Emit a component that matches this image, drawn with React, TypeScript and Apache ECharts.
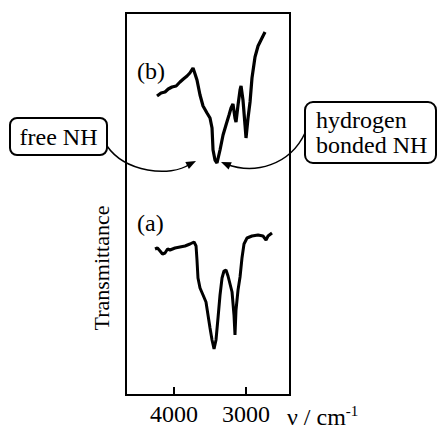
import React, { useEffect, useRef } from "react";
import * as echarts from "echarts";

// Wavenumber (cm^-1) and transmittance (arbitrary units)
const waveB = [4236, 4180, 4125, 4080, 4028, 3970, 3917, 3870, 3819, 3780, 3736, 3708, 3681, 3639, 3597, 3542, 3500, 3472, 3458, 3431, 3403, 3361, 3319, 3278, 3236, 3208, 3181, 3153, 3139, 3111, 3083, 3069, 3042, 3014, 3000, 2972, 2944, 2917, 2875, 2833, 2778, 2736];
const transB = [299, 302, 303, 306, 308, 309, 313, 316, 319, 322, 327, 321, 315, 300, 289, 282, 277, 267, 245, 235, 232, 245, 260, 270, 280, 287, 291, 277, 273, 290, 305, 309, 295, 270, 257, 277, 293, 317, 338, 349, 357, 363];

const waveA = [4264, 4230, 4194, 4160, 4125, 4090, 4056, 3986, 3917, 3847, 3778, 3722, 3694, 3681, 3667, 3639, 3597, 3556, 3528, 3500, 3472, 3444, 3417, 3389, 3361, 3333, 3306, 3278, 3250, 3222, 3194, 3167, 3153, 3139, 3111, 3083, 3056, 3028, 2986, 2917, 2833, 2764, 2722, 2694, 2639];
const transA = [146, 147, 144, 141, 142, 146, 145, 147, 148, 149, 151, 153, 149, 135, 117, 107, 100, 93, 80, 67, 55, 46, 55, 77, 100, 117, 124, 125, 119, 111, 103, 80, 60, 85, 105, 118, 137, 151, 157, 159, 160, 159, 155, 159, 162];

const tickValues = [4000, 3000];
const xMin = 2389;
const xMax = 4667;

const SERIF = "'Liberation Serif', 'Times New Roman', 'DejaVu Serif', serif";

export default function App() {
  const ref = useRef<HTMLDivElement>(null);
  useEffect(() => {
    if (!ref.current) return;
    const chart = echarts.init(ref.current, null, { renderer: "svg" });
    const dataB = waveB.map((w, i) => [w, transB[i]]);
    const dataA = waveA.map((w, i) => [w, transA[i]]);
    chart.setOption({
      animation: false,
      backgroundColor: "#fff",
      grid: {
        left: 126,
        right: 148,
        top: 13,
        bottom: 35,
        show: true,
        borderColor: "#000",
        borderWidth: 2,
        backgroundColor: "transparent",
      },
      xAxis: {
        type: "value",
        inverse: true,
        min: xMin,
        max: xMax,
        splitLine: { show: false },
        axisLine: { show: true, lineStyle: { color: "#000", width: 2 } },
        axisTick: {
          show: true,
          inside: true,
          length: 8,
          customValues: tickValues,
          lineStyle: { color: "#000", width: 2 },
        },
        axisLabel: {
          customValues: tickValues,
          formatter: (v: number) => String(v),
          color: "#000",
          fontFamily: SERIF,
          fontSize: 24,
          margin: 7,
        },
      },
      yAxis: {
        type: "value",
        min: 0,
        max: 382,
        axisLine: { show: false },
        axisTick: { show: false },
        axisLabel: { show: false },
        splitLine: { show: false },
      },
      series: [
        {
          type: "line",
          name: "(b)",
          data: dataB,
          showSymbol: false,
          lineStyle: { color: "#000", width: 3.2 },
          silent: true,
        },
        {
          type: "line",
          name: "(a)",
          data: dataA,
          showSymbol: false,
          lineStyle: { color: "#000", width: 3 },
          silent: true,
        },
      ],
      graphic: [
        {
          type: "text",
          x: 101,
          y: 268,
          rotation: Math.PI / 2,
          style: { text: "Transmittance", fontFamily: SERIF, fontSize: 22, fill: "#000", align: "center", verticalAlign: "middle" },
        },
        { type: "text", left: 137, top: 59, style: { text: "(b)", fontFamily: SERIF, fontSize: 24, fill: "#000" } },
        { type: "text", left: 137, top: 211, style: { text: "(a)", fontFamily: SERIF, fontSize: 24, fill: "#000" } },
        {
          type: "bezierCurve",
          shape: { x1: 107, y1: 146, cpx1: 125, cpy1: 172, cpx2: 170, cpy2: 178, x2: 190, y2: 164 },
          style: { stroke: "#000", lineWidth: 1.5, fill: "none" },
        },
        {
          type: "polygon",
          shape: { points: [[196, 161], [188.9, 169.1], [185.3, 161.9]] },
          style: { fill: "#000" },
        },
        {
          type: "bezierCurve",
          shape: { x1: 305, y1: 133, cpx1: 290, cpy1: 165, cpx2: 255, cpy2: 175, x2: 226, y2: 164 },
          style: { stroke: "#000", lineWidth: 1.5, fill: "none" },
        },
        {
          type: "polygon",
          shape: { points: [[221, 162], [231.8, 162.2], [228.6, 169.6]] },
          style: { fill: "#000" },
        },
        {
          type: "rect",
          shape: { x: 10, y: 118, width: 97, height: 37, r: 7 },
          style: { fill: "#fff", stroke: "#000", lineWidth: 2 },
        },
        {
          type: "text",
          x: 58.5,
          y: 137,
          style: { text: "free NH", fontFamily: SERIF, fontSize: 24, fill: "#000", align: "center", verticalAlign: "middle" },
        },
        {
          type: "rect",
          shape: { x: 305, y: 102, width: 131, height: 61, r: 8 },
          style: { fill: "#fff", stroke: "#000", lineWidth: 2 },
        },
        {
          type: "text",
          x: 316,
          y: 132.5,
          style: {
            text: "hydrogen\nbonded NH",
            fontFamily: SERIF,
            fontSize: 24,
            lineHeight: 25,
            fill: "#000",
            align: "left",
            verticalAlign: "middle",
          },
        },
        {
          type: "text",
          x: 287,
          y: 429,
          style: {
            text: "{m|ν / cm}{s|-1}",
            fill: "#000",
            verticalAlign: "bottom",
            rich: {
              m: { fontFamily: SERIF, fontSize: 24, fill: "#000", verticalAlign: "bottom" },
              s: { fontFamily: SERIF, fontSize: 15, fill: "#000", verticalAlign: "top", padding: [0, 0, 11, 0] },
            },
          },
        },
      ],
    });
    return () => chart.dispose();
  }, []);
  return <div ref={ref} style={{ width: 438, height: 430, position: "absolute", left: 0, top: 0 }} />;
}
